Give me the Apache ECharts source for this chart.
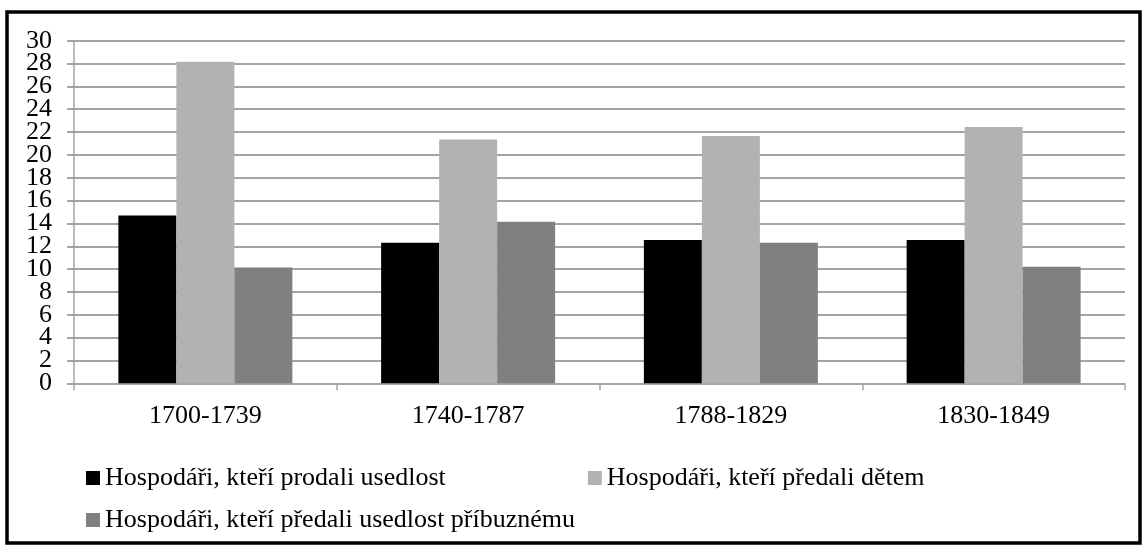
<!DOCTYPE html>
<html>
<head>
<meta charset="utf-8">
<script src="https://cdn.jsdelivr.net/npm/echarts@6/dist/echarts.min.js"></script>
<style>
html,body{margin:0;padding:0;background:#fff;}
#c{width:1144px;height:546px;}
</style>
</head>
<body>
<div id="c"></div>
<script>
var categories = ['1700-1739', '1740-1787', '1788-1829', '1830-1849'];
var seriesNames = [
  'Hospodáři, kteří prodali usedlost',
  'Hospodáři, kteří předali dětem',
  'Hospodáři, kteří předali usedlost příbuznému'
];
var soldValues = [14.7, 12.3, 12.55, 12.55];
var childrenValues = [28.15, 21.35, 21.65, 22.45];
var relativeValues = [10.15, 14.15, 12.3, 10.2];
var yMin = 0, yMax = 30, yStep = 2;

var FONT = 'Liberation Serif';
var chart = echarts.init(document.getElementById('c'), null, {renderer: 'canvas'});
var colors = ['#000000', '#b2b2b2', '#808080'];
var values = [soldValues, childrenValues, relativeValues];

// main plot geometry
var G = {left: 74, right: 19, top: 40.7, bottom: 162.7};
var plotH = 546 - G.top - G.bottom;
var pxPerUnit = plotH / (yMax - yMin);
var labelStep = yStep * 2;

var yLabelStyle = {
  fontFamily: FONT, fontSize: 26, color: '#000', margin: 22,
  showMinLabel: true, showMaxLabel: true
};
var hiddenX = {type: 'category', data: categories, show: false};

chart.setOption({
  animation: false,
  color: colors,
  textStyle: {fontFamily: FONT, color: '#000'},
  grid: [
    {left: G.left, right: G.right, top: G.top, bottom: G.bottom},
    // label grid A: even multiples of labelStep (0,4,...,28)
    {left: G.left, right: G.right, top: G.top - yStep * pxPerUnit, bottom: G.bottom},
    // label grid B: 2,6,...,30
    {left: G.left, right: G.right, top: G.top, bottom: G.bottom - yStep * pxPerUnit}
  ],
  graphic: [{
    type: 'rect',
    shape: {x: 7, y: 12, width: 1133, height: 531},
    style: {fill: 'none', stroke: '#000', lineWidth: 3.5},
    z: 100
  }],
  legend: [
    {
      data: [seriesNames[0], seriesNames[1]],
      left: 81, top: 460, orient: 'horizontal',
      itemWidth: 14, itemHeight: 14, itemGap: 142,
      icon: 'rect',
      textStyle: {fontFamily: FONT, fontSize: 26, color: '#000'}
    },
    {
      data: [seriesNames[2]],
      left: 81, top: 502, orient: 'horizontal',
      itemWidth: 14, itemHeight: 14,
      icon: 'rect',
      textStyle: {fontFamily: FONT, fontSize: 26, color: '#000'}
    }
  ],
  xAxis: [
    {
      gridIndex: 0,
      type: 'category',
      data: categories,
      boundaryGap: true,
      axisLine: {show: true, lineStyle: {color: '#a6a6a6', width: 1.5}},
      axisTick: {show: true, length: 7, lineStyle: {color: '#a6a6a6', width: 1.5}},
      axisLabel: {fontFamily: FONT, fontSize: 26, color: '#000', margin: 20},
      splitLine: {show: false}
    },
    Object.assign({gridIndex: 1}, hiddenX),
    Object.assign({gridIndex: 2}, hiddenX)
  ],
  yAxis: [
    {
      gridIndex: 0,
      type: 'value',
      min: yMin, max: yMax, interval: yStep,
      axisLine: {show: true, lineStyle: {color: '#a6a6a6', width: 1.5}},
      axisTick: {show: true, length: 7, lineStyle: {color: '#868686', width: 1.5}},
      axisLabel: {show: false},
      splitLine: {show: true, lineStyle: {color: '#868686', width: 1.5}}
    },
    {
      gridIndex: 1,
      type: 'value',
      min: yMin, max: yMax + yStep, interval: labelStep,
      axisLine: {show: false}, axisTick: {show: false}, splitLine: {show: false},
      axisLabel: Object.assign({
        formatter: function (v) { return v > yMax ? '' : String(v); }
      }, yLabelStyle)
    },
    {
      gridIndex: 2,
      type: 'value',
      min: yMin - yStep, max: yMax, interval: labelStep,
      axisLine: {show: false}, axisTick: {show: false}, splitLine: {show: false},
      axisLabel: Object.assign({
        formatter: function (v) { return v < yMin ? '' : String(v); }
      }, yLabelStyle)
    }
  ],
  series: values.map(function (v, i) {
    return {
      name: seriesNames[i],
      type: 'bar',
      xAxisIndex: 0, yAxisIndex: 0,
      data: v,
      barWidth: 58,
      barGap: '0%',
      itemStyle: {color: colors[i]}
    };
  })
});
</script>
</body>
</html>
